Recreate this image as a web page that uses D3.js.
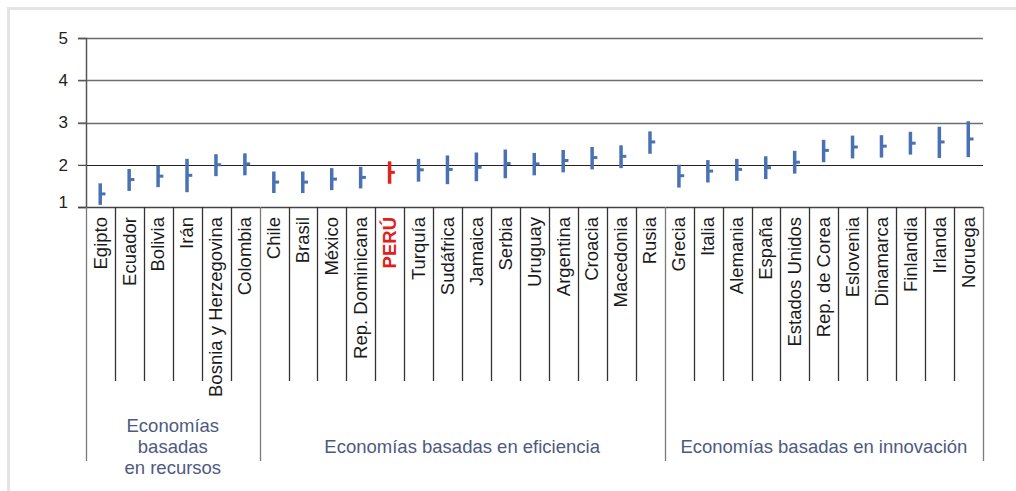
<!DOCTYPE html>
<html>
<head>
<meta charset="utf-8">
<script src="https://cdn.jsdelivr.net/npm/d3@7"></script>
<style>
  body { margin: 0; background: #fff; }
  svg text { font-family: "Liberation Sans", Arial, sans-serif; }
</style>
</head>
<body>
<div id="chart"></div>
<script>
// Countries, in drawing order
const countries = [
    "Egipto", "Ecuador", "Bolivia", "Irán", "Bosnia y Herzegovina", "Colombia",
    "Chile", "Brasil", "México", "Rep. Dominicana", "PERÚ", "Turquía", "Sudáfrica",
    "Jamaica", "Serbia", "Uruguay", "Argentina", "Croacia", "Macedonia", "Rusia",
    "Grecia", "Italia", "Alemania", "España", "Estados Unidos", "Rep. de Corea",
    "Eslovenia", "Dinamarca", "Finlandia", "Irlanda", "Noruega"
];

// Interval values (low / mean / high)
const lowValues = [
    1.05, 1.38, 1.47, 1.35, 1.73, 1.75,
    1.33, 1.33, 1.40, 1.44, 1.55, 1.60, 1.54,
    1.61, 1.68, 1.75, 1.82, 1.89, 1.92, 2.26,
    1.46, 1.58, 1.62, 1.66, 1.79, 2.06,
    2.15, 2.17, 2.24, 2.16, 2.18
];
const meanValues = [
    1.31, 1.65, 1.73, 1.75, 2.00, 2.02,
    1.59, 1.59, 1.66, 1.70, 1.82, 1.88, 1.89,
    1.94, 2.03, 2.02, 2.10, 2.17, 2.20, 2.54,
    1.74, 1.85, 1.89, 1.93, 2.06, 2.34,
    2.42, 2.44, 2.51, 2.54, 2.61
];
const highValues = [
    1.56, 1.90, 1.98, 2.14, 2.25, 2.27,
    1.84, 1.84, 1.92, 1.95, 2.08, 2.14, 2.22,
    2.29, 2.36, 2.28, 2.35, 2.42, 2.46, 2.79,
    2.00, 2.11, 2.14, 2.20, 2.33, 2.59,
    2.69, 2.70, 2.78, 2.90, 3.03
];

// Groups: label lines and how many countries each covers
const groupLabels = [
    ["Economías", "basadas", "en recursos"],
    ["Economías basadas en eficiencia"],
    ["Economías basadas en innovación"]
];
const groupSizes = [6, 14, 11];

const yTicks = [1, 2, 3, 4, 5];
const highlight = "PERÚ";

function draw() {
    const width = 1016;
    const height = 491;
    const left = 86, right = 983, top = 38, bottom = 207;

    const svg = d3.select("#chart").append("svg")
        .attr("width", width)
        .attr("height", height);

    // light frame of the panel (top and left edges)
    svg.append("rect").attr("x", 7).attr("y", 7).attr("width", width).attr("height", 3).attr("fill", "#e4e4e4");
    svg.append("rect").attr("x", 7).attr("y", 7).attr("width", 3).attr("height", height).attr("fill", "#e4e4e4");

    const x = d3.scaleBand()
        .domain(countries)
        .range([left, right]);

    const y = d3.scaleLinear()
        .domain([1, 5])
        .range([bottom, top]);

    // gridlines
    svg.append("g")
        .selectAll("line")
        .data(yTicks.filter(d => d > 1))
        .join("line")
        .attr("x1", left - 8)
        .attr("x2", right)
        .attr("y1", d => Math.round(y(d)) + 0.5)
        .attr("y2", d => Math.round(y(d)) + 0.5)
        .attr("stroke", d => d === 2 ? "#222" : "#6e6e6e")
        .attr("stroke-width", d => d === 2 ? 1.2 : 1.6);

    // y axis
    const yAxis = d3.axisLeft(y)
        .tickValues(yTicks)
        .tickSize(8)
        .tickPadding(10)
        .tickFormat(d3.format("d"));

    const gy = svg.append("g")
        .attr("transform", `translate(${left},0)`)
        .call(yAxis);
    gy.select(".domain").attr("stroke", "#555").attr("stroke-width", 1.5);
    gy.selectAll(".tick line").attr("stroke", "#555");
    gy.selectAll(".tick text")
        .attr("font-size", 17)
        .attr("fill", "#222")
        .attr("font-family", "Liberation Sans, Arial, sans-serif");
    gy.selectAll(".tick").filter(d => d === 1).select("text").attr("dy", "0.05em");

    // x axis baseline
    svg.append("line")
        .attr("x1", left - 8).attr("x2", right)
        .attr("y1", bottom + 0.5).attr("y2", bottom + 0.5)
        .attr("stroke", "#444").attr("stroke-width", 1.5);

    // category separators
    const groupEnds = d3.cumsum(groupSizes);
    const groupStarts = [0].concat(Array.from(groupEnds).slice(0, -1));
    const boundaries = d3.range(countries.length + 1);
    svg.append("g")
        .selectAll("line")
        .data(boundaries)
        .join("line")
        .attr("x1", i => Math.round(i < countries.length ? x(countries[i]) : right) + 0.5)
        .attr("x2", i => Math.round(i < countries.length ? x(countries[i]) : right) + 0.5)
        .attr("y1", bottom)
        .attr("y2", i => (i === 0 || groupEnds.includes(i)) ? 461 : 381)
        .attr("stroke", i => (i === 0 || groupEnds.includes(i)) ? "#7a7a7a" : "#333")
        .attr("stroke-width", 1.3);

    // country labels
    svg.append("g")
        .selectAll("text")
        .data(countries)
        .join("text")
        .attr("transform", d => `translate(${x(d) + x.bandwidth() / 2},217) rotate(-90)`)
        .attr("text-anchor", "end")
        .attr("dy", "0.33em")
        .attr("font-size", 18.5)
        .attr("font-weight", d => d === highlight ? "bold" : null)
        .attr("fill", d => d === highlight ? "#e0201b" : "#1a1a1a")
        .text(d => d);

    // group labels
    groupLabels.forEach(function(lines, gi) {
        const x0 = x(countries[groupStarts[gi]]);
        const x1 = groupEnds[gi] < countries.length ? x(countries[groupEnds[gi]]) : right;
        const cx = (x0 + x1) / 2;
        const startY = lines.length > 1 ? 432 : 453;
        svg.append("text")
            .attr("x", cx)
            .attr("y", startY)
            .attr("text-anchor", "middle")
            .attr("font-size", 18.5)
            .attr("fill", "#4d5a80")
            .selectAll("tspan")
            .data(lines)
            .join("tspan")
            .attr("x", cx)
            .attr("dy", (d, i) => i === 0 ? 0 : 21)
            .text(d => d);
    });

    // interval bars
    const rows = countries.map((c, i) => ({
        name: c, low: lowValues[i], mean: meanValues[i], high: highValues[i]
    }));
    const color = d => d.name === highlight ? "#e0231d" : "#4a72b3";

    const marks = svg.append("g")
        .selectAll("g")
        .data(rows)
        .join("g")
        .attr("transform", d => `translate(${x(d.name) + x.bandwidth() / 2},0)`);

    marks.append("rect")
        .attr("x", -2)
        .attr("width", 3.5)
        .attr("y", d => y(d.high))
        .attr("height", d => y(d.low) - y(d.high))
        .attr("fill", color);

    marks.append("rect")
        .attr("x", 0)
        .attr("width", 5)
        .attr("y", d => y(d.mean) - 1.5)
        .attr("height", 3)
        .attr("fill", color);
}

window.addEventListener("load", draw);
</script>
</body>
</html>
